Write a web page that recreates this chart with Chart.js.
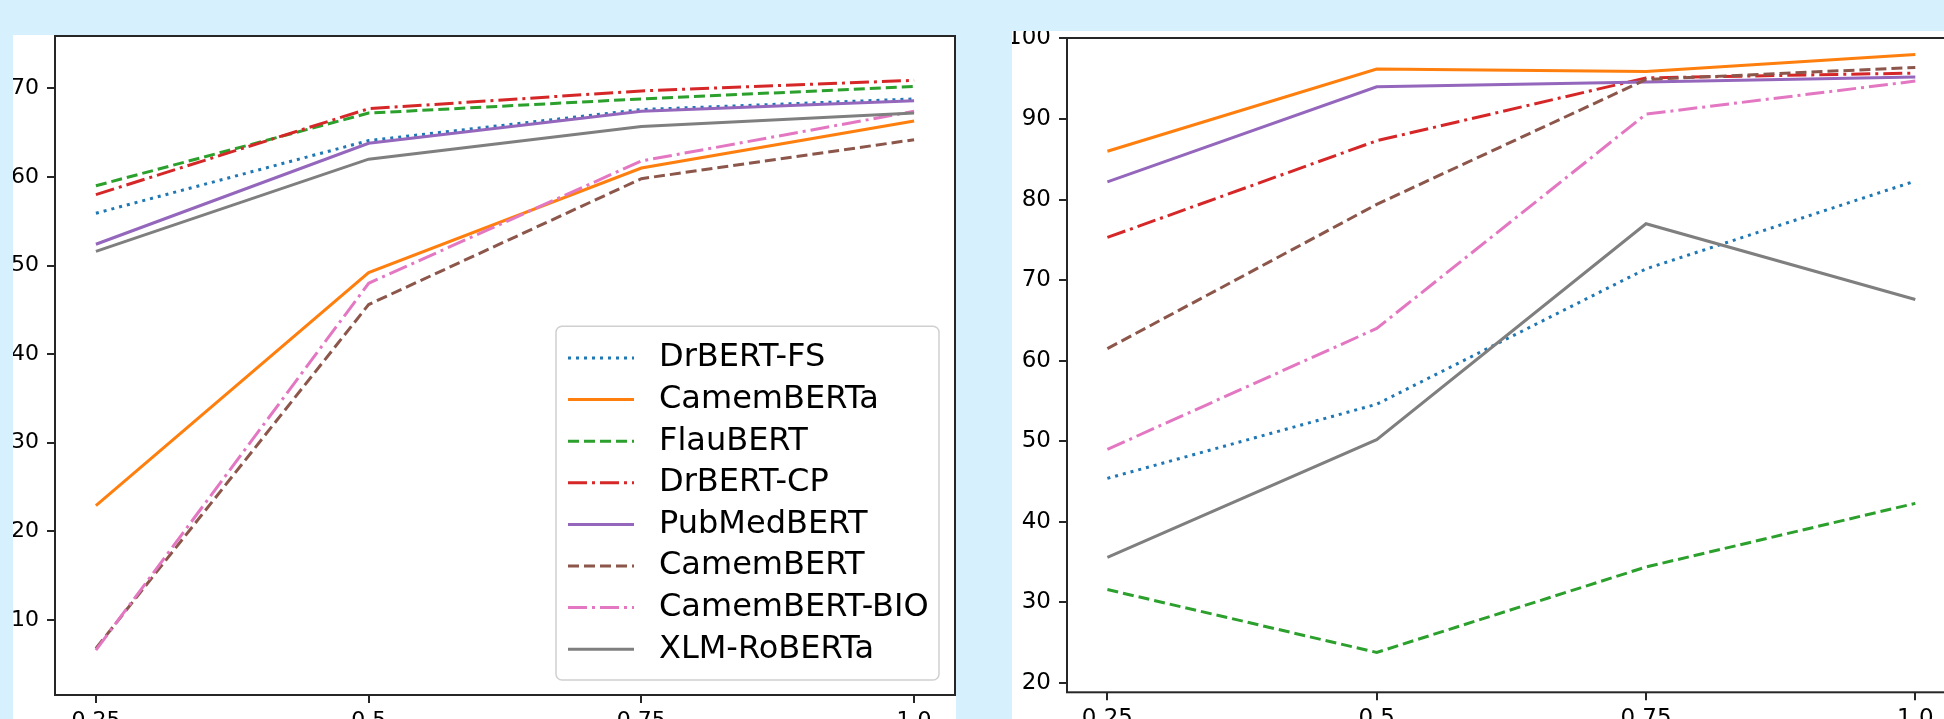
<!DOCTYPE html>
<html>
<head>
<meta charset="utf-8">
<script src="https://cdn.jsdelivr.net/npm/chart.js@4.4.1/dist/chart.umd.min.js"></script>
<style>
  html, body { margin: 0; padding: 0; width: 1944px; height: 719px; overflow: hidden; background: #d7f0fe; }
  .panel { position: absolute; background: #ffffff; }
  .panel canvas { display: block; }
  #panelA { left: 13px; top: 35px; width: 943px; height: 700px; }
  #panelB { left: 1012px; top: 31px; width: 948px; height: 700px; }
</style>
</head>
<body>
<div class="panel" id="panelA"><canvas id="chartA" width="943" height="700"></canvas></div>
<div class="panel" id="panelB"><canvas id="chartB" width="948" height="700"></canvas></div>
<script>
// x values and tick labels (same for both plots)
const xValues = [0.25, 0.5, 0.75, 1.0];
const xTickLabels = ['0.25', '0.5', '0.75', '1.0'];

const seriesNames = ['DrBERT-FS', 'CamemBERTa', 'FlauBERT', 'DrBERT-CP', 'PubMedBERT', 'CamemBERT', 'CamemBERT-BIO', 'XLM-RoBERTa'];

// left plot
const drbertFsA     = [55.9, 64.1, 67.6, 68.8];
const camembertaA   = [22.9, 49.2, 61.0, 66.3];
const flaubertA     = [59.0, 67.2, 68.8, 70.2];
const drbertCpA     = [58.0, 67.7, 69.7, 70.9];
const pubmedbertA   = [52.4, 63.8, 67.4, 68.6];
const camembertA    = [6.8, 45.6, 59.8, 64.2];
const camembertBioA = [6.6, 48.0, 61.8, 67.4];
const xlmRobertaA   = [51.6, 62.0, 65.7, 67.2];
const yTicksA = [10, 20, 30, 40, 50, 60, 70];

// right plot
const drbertFsB     = [45.4, 54.6, 71.4, 82.3];
const camembertaB   = [86.0, 96.2, 95.9, 98.0];
const flaubertB     = [31.6, 23.8, 34.4, 42.3];
const drbertCpB     = [75.3, 87.3, 95.1, 95.7];
const pubmedbertB   = [82.2, 94.0, 94.6, 95.2];
const camembertB    = [61.5, 79.4, 94.9, 96.4];
const camembertBioB = [49.0, 64.0, 90.6, 94.7];
const xlmRobertaB   = [35.6, 50.2, 77.0, 67.6];
const yTicksB = [20, 30, 40, 50, 60, 70, 80, 90, 100];

// matplotlib tab10 colours + line styles
const seriesColors = ['#1f77b4', '#ff7f0e', '#2ca02c', '#d62728', '#9467bd', '#8c564b', '#e377c2', '#7f7f7f'];
const DOT = [3, 5], DASH = [11, 5], DASHDOT = [19, 5, 3, 5];
const seriesDashes = [DOT, [], DASH, DASHDOT, [], DASH, DASHDOT, []];

const FONT = '"DejaVu Sans"';

// draw the axes box (all four spines)
const framePlugin = {
  id: 'frame',
  afterDatasetsDraw(chart) {
    const { ctx, chartArea: a } = chart;
    ctx.save();
    ctx.strokeStyle = '#262626';
    ctx.lineWidth = 2;
    ctx.strokeRect(a.left, a.top, a.right - a.left, a.bottom - a.top);
    ctx.restore();
  }
};

// matplotlib-like legend box in the lower right corner
const boxLegend = {
  id: 'boxLegend',
  afterDraw(chart, args, opts) {
    if (!opts.show) return;
    const { ctx, chartArea: a } = chart;
    const sets = chart.data.datasets;
    const rowH = 41.6, w = 383, padTop = 11, padBottom = 10;
    const h = sets.length * rowH + padTop + padBottom;
    const x0 = a.right - 16 - w, y0 = a.bottom - 15 - h;
    ctx.save();
    ctx.beginPath();
    ctx.roundRect(x0, y0, w, h, 6);
    ctx.fillStyle = 'rgba(255,255,255,0.8)';
    ctx.fill();
    ctx.strokeStyle = '#d0d0d0';
    ctx.lineWidth = 1.5;
    ctx.stroke();
    ctx.font = '32px ' + FONT;
    ctx.textBaseline = 'middle';
    sets.forEach((ds, i) => {
      const cy = y0 + padTop + rowH * (i + 0.5);
      ctx.beginPath();
      ctx.setLineDash(ds.borderDash);
      ctx.strokeStyle = ds.borderColor;
      ctx.lineWidth = ds.borderWidth;
      ctx.moveTo(x0 + 12, cy);
      ctx.lineTo(x0 + 78, cy);
      ctx.stroke();
      ctx.setLineDash([]);
      ctx.fillStyle = '#000';
      ctx.fillText(ds.label, x0 + 103, cy);
    });
    ctx.restore();
  }
};

function makeChart(id, series, yMin, yMax, yTicks, box, showLegend) {
  const datasets = series.map((vals, i) => ({
    label: seriesNames[i],
    data: xValues.map((x, j) => ({ x: x, y: vals[j] })),
    borderColor: seriesColors[i],
    borderDash: seriesDashes[i],
    borderWidth: 3,
    borderCapStyle: 'butt',
    pointRadius: 0,
    fill: false,
    tension: 0,
    order: series.length - i
  }));
  const tickFont = { family: FONT, size: box.fontSize };
  const grid = { drawOnChartArea: false, drawTicks: true, tickLength: 8, tickWidth: 2, tickColor: '#262626', lineWidth: 2 };
  return new Chart(document.getElementById(id), {
    type: 'line',
    data: { datasets: datasets },
    options: {
      responsive: false,
      animation: false,
      layout: { padding: { top: box.top, right: box.right, left: 0, bottom: 0 } },
      plugins: { legend: { display: false }, tooltip: { enabled: false }, boxLegend: { show: showLegend } },
      scales: {
        x: {
          type: 'linear', min: 0.2125, max: 1.0375,
          border: { display: false },
          grid: grid,
          ticks: { font: tickFont, color: '#000', padding: 5, maxRotation: 0, autoSkip: false,
                   callback: (v, i) => xTickLabels[i] },
          afterBuildTicks: s => { s.ticks = xValues.map(v => ({ value: v })); },
          afterFit: s => { s.height = box.xHeight; s.paddingLeft = 0; s.paddingRight = 0; }
        },
        y: {
          type: 'linear', min: yMin, max: yMax,
          border: { display: false },
          grid: grid,
          ticks: { font: tickFont, color: '#000', padding: 8, autoSkip: false,
                   callback: v => String(v) },
          afterBuildTicks: s => { s.ticks = yTicks.map(v => ({ value: v })); },
          afterFit: s => { s.width = box.yWidth; s.paddingTop = 0; s.paddingBottom = 0; }
        }
      }
    },
    plugins: [framePlugin, boxLegend]
  });
}

makeChart('chartA',
  [drbertFsA, camembertaA, flaubertA, drbertCpA, pubmedbertA, camembertA, camembertBioA, xlmRobertaA],
  1.54, 75.9, yTicksA, { top: 1, right: 1, yWidth: 42, xHeight: 40, fontSize: 22 }, true);

makeChart('chartB',
  [drbertFsB, camembertaB, flaubertB, drbertCpB, pubmedbertB, camembertB, camembertBioB, xlmRobertaB],
  18.85, 100.05, yTicksB, { top: 7, right: 4.3, yWidth: 55, xHeight: 38.7, fontSize: 23 }, false);
</script>
</body>
</html>
